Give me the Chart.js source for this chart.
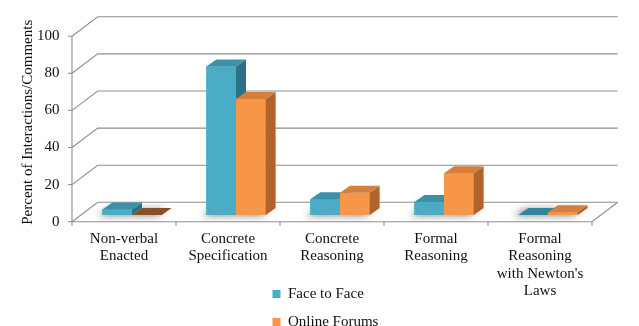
<!DOCTYPE html>
<html>
<head>
<meta charset="utf-8">
<script src="https://cdn.jsdelivr.net/npm/chart.js@4.4.1/dist/chart.umd.min.js"></script>
<style>
  html, body { margin: 0; padding: 0; background: #ffffff; }
  canvas { display: block; }
</style>
</head>
<body>
<canvas id="c" width="639" height="326"></canvas>
<script>
// ---------- data ----------
const categories = [
  ['Non-verbal', 'Enacted'],
  ['Concrete', 'Specification'],
  ['Concrete', 'Reasoning'],
  ['Formal', 'Reasoning'],
  ['Formal', 'Reasoning', "with Newton's", 'Laws']
];
const seriesNames = ['Face to Face', 'Online Forums'];
const faceToFace = [3, 80, 8.5, 7, 0];
const onlineForums = [0, 62.5, 12, 22.5, 1.5];
const yTicks = [0, 20, 40, 60, 80, 100];
const yTitle = 'Percent of Interactions/Comments';

// ---------- style ----------
const FONT = "'Liberation Serif', 'Times New Roman', serif";
const TEXT = '#111111';
const GRID = '#8f8f8f';
const FRONT = { dx: -8, dy: 6.7 };     // bar plane -> front plane
const BACK = { dx: 17.7, dy: -12.7 };  // bar plane -> back wall
const BAR_DEPTH = { dx: 10, dy: -7 };
const palette = [
  { front: '#4bacc6', top: '#3c91a9', side: '#2d7187', zero: '#30879d' },
  { front: '#f79646', top: '#d57f3d', side: '#b0632a', zero: '#8a5025' }
];

const threeD = {
  id: 'threeD',
  afterLayout(chart) {
    // place the stacked legend below the category labels
    const lg = chart.legend;
    if (!lg || !lg.options.display) return;
    lg.left = chart.width / 2 - 60;
    lg.right = lg.left + lg.width;
    lg.top = chart.chartArea.bottom + 58.5;
    lg.bottom = lg.top + Math.max(lg.height, 90);
  },
  beforeDatasetsDraw(chart) {
    const { ctx, chartArea: a, scales: { x, y } } = chart;
    ctx.save();
    ctx.strokeStyle = GRID;
    ctx.lineWidth = 1.1;
    // back wall gridlines + side wall lines
    yTicks.forEach(v => {
      const py = y.getPixelForValue(v);
      ctx.beginPath();
      ctx.moveTo(a.left + FRONT.dx, py + FRONT.dy);
      ctx.lineTo(a.left + BACK.dx, py + BACK.dy);
      ctx.lineTo(a.right + BACK.dx, py + BACK.dy);
      ctx.stroke();
    });
    const y0 = y.getPixelForValue(yTicks[0]);
    const yMax = y.getPixelForValue(yTicks[yTicks.length - 1]);
    // front vertical axis
    ctx.beginPath();
    ctx.moveTo(a.left + FRONT.dx, yMax + FRONT.dy);
    ctx.lineTo(a.left + FRONT.dx, y0 + FRONT.dy);
    ctx.stroke();
    yTicks.forEach(v => {
      const py = y.getPixelForValue(v) + FRONT.dy;
      ctx.beginPath();
      ctx.moveTo(a.left + FRONT.dx - 4, py);
      ctx.lineTo(a.left + FRONT.dx, py);
      ctx.stroke();
    });
    // floor front edge and right edge
    ctx.beginPath();
    ctx.moveTo(a.left + FRONT.dx, y0 + FRONT.dy);
    ctx.lineTo(a.right + FRONT.dx, y0 + FRONT.dy);
    ctx.lineTo(a.right + BACK.dx, y0 + BACK.dy);
    ctx.stroke();
    // category tick marks
    for (let i = 0; i <= categories.length; i++) {
      const px = x.getPixelForValue(i - 0.5) + FRONT.dx;
      ctx.beginPath();
      ctx.moveTo(px, y0 + FRONT.dy);
      ctx.lineTo(px, y0 + FRONT.dy + 4);
      ctx.stroke();
    }
    // soft shadows on the floor
    ctx.shadowColor = 'rgba(0,0,0,0.45)';
    ctx.shadowBlur = 7;
    ctx.shadowOffsetX = -5;
    ctx.shadowOffsetY = 1;
    ctx.fillStyle = '#bbbbbb';
    chart.data.datasets.forEach((ds, di) => {
      chart.getDatasetMeta(di).data.forEach(el => {
        const { x: bx, base, width } = el.getProps(['x', 'base', 'width'], true);
        const x0 = bx - width / 2, x1 = bx + width / 2;
        ctx.beginPath();
        ctx.moveTo(x0, base);
        ctx.lineTo(x0 + BAR_DEPTH.dx, base + BAR_DEPTH.dy);
        ctx.lineTo(x1 + BAR_DEPTH.dx, base + BAR_DEPTH.dy);
        ctx.lineTo(x1, base);
        ctx.closePath();
        ctx.fill();
      });
    });
    ctx.restore();
  },
  afterDatasetsDraw(chart) {
    const { ctx } = chart;
    const { dx, dy } = BAR_DEPTH;
    chart.data.datasets.forEach((ds, di) => {
      const c = palette[di];
      chart.getDatasetMeta(di).data.forEach(el => {
        el.draw(ctx);
        const { x, y, base, width } = el.getProps(['x', 'y', 'base', 'width'], true);
        const x0 = x - width / 2, x1 = x + width / 2;
        const zero = Math.abs(base - y) < 0.5;
        ctx.save();
        if (!zero) {
          ctx.fillStyle = c.side;
          ctx.beginPath();
          ctx.moveTo(x1, y);
          ctx.lineTo(x1 + dx, y + dy);
          ctx.lineTo(x1 + dx, base + dy);
          ctx.lineTo(x1, base);
          ctx.closePath();
          ctx.fill();
        }
        ctx.fillStyle = zero ? c.zero : c.top;
        ctx.beginPath();
        ctx.moveTo(x0, y);
        ctx.lineTo(x0 + dx, y + dy);
        ctx.lineTo(x1 + dx, y + dy);
        ctx.lineTo(x1, y);
        ctx.closePath();
        ctx.fill();
        ctx.restore();
      });
    });
  }
};

new Chart(document.getElementById('c'), {
  type: 'bar',
  data: {
    labels: categories,
    datasets: [
      { label: seriesNames[0], data: faceToFace, backgroundColor: palette[0].front, borderWidth: 0 },
      { label: seriesNames[1], data: onlineForums, backgroundColor: palette[1].front, borderWidth: 0 }
    ]
  },
  options: {
    responsive: false,
    animation: false,
    events: [],
    categoryPercentage: 0.57,
    barPercentage: 1.0,
    layout: { padding: { left: 0, right: 39, top: 25.5, bottom: 0 } },
    scales: {
      x: {
        grid: { display: false, drawTicks: false },
        border: { display: false },
        afterFit: s => { s.height = 111; },
        ticks: {
          autoSkip: false, maxRotation: 0, minRotation: 0,
          padding: 15.3, labelOffset: FRONT.dx,
          color: TEXT,
          font: { family: FONT, size: 15, lineHeight: 1.16 }
        }
      },
      y: {
        min: yTicks[0], max: yTicks[yTicks.length - 1],
        grid: { display: false, drawTicks: false },
        border: { display: false },
        afterFit: s => { s.width = 80; },
        afterBuildTicks: s => { s.ticks = yTicks.map(v => ({ value: v })); },
        ticks: {
          padding: 20.5, labelOffset: FRONT.dy,
          color: TEXT,
          font: { family: FONT, size: 15 }
        },
        title: {
          display: true, text: yTitle, color: TEXT,
          font: { family: FONT, size: 15 },
          padding: { top: 19, bottom: 0 }
        }
      }
    },
    plugins: {
      tooltip: { enabled: false },
      legend: {
        position: 'chartArea',
        align: 'start',
        labels: {
          boxWidth: 8, boxHeight: 8, padding: 13,
          color: TEXT,
          font: { family: FONT, size: 15 }
        }
      }
    }
  },
  plugins: [threeD]
});
</script>
</body>
</html>
